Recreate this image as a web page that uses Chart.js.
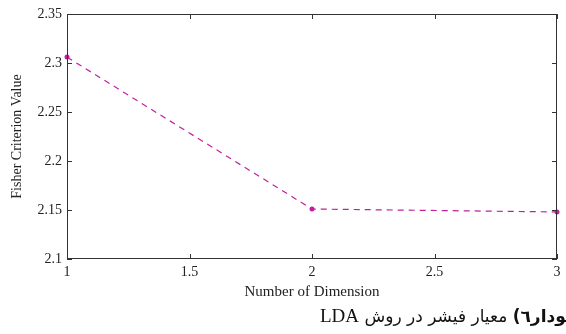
<!DOCTYPE html>
<html><head><meta charset="utf-8">
<script src="https://cdn.jsdelivr.net/npm/chart.js@4"></script>
<style>
html,body{margin:0;padding:0;background:#fff;width:566px;height:334px;overflow:hidden;position:relative;}
#wrap{position:absolute;left:0;top:0;width:566px;height:305px;}
#cap{position:absolute;top:303px;left:320px;font-family:"DejaVu Sans";font-size:17px;direction:rtl;white-space:nowrap;color:#111;line-height:26px;}
#cap b{font-weight:bold;}
#cap .lat{font-family:"Liberation Serif";font-size:19px;}
</style></head><body>
<div id="wrap"><canvas id="c" width="566" height="305"></canvas></div>
<div id="cap"><b>نمودار٦)</b> معیار فیشر در روش <span class="lat">LDA</span></div>
<script>
const dims = [1, 2, 3];
const fisherValues = [2.306, 2.151, 2.148];
const xTicks = [1, 1.5, 2, 2.5, 3];
const yTicks = [2.1, 2.15, 2.2, 2.25, 2.3, 2.35];
const lineColor = '#c0209e';
const axisColor = '#333';
const serif = 'Liberation Serif';

const frame = {
  id: 'frame',
  afterDatasetsDraw(chart) {
    const {ctx, chartArea: a, scales: {x, y}} = chart;
    ctx.save();
    ctx.strokeStyle = axisColor;
    ctx.lineWidth = 1;
    ctx.strokeRect(Math.round(a.left) + 0.5, Math.round(a.top) + 0.5, Math.round(a.right - a.left) - 1, Math.round(a.bottom - a.top) - 1);
    ctx.beginPath();
    const t = 5;
    xTicks.forEach(v => {
      const px = Math.round(x.getPixelForValue(v)) + 0.5;
      ctx.moveTo(px, a.bottom); ctx.lineTo(px, a.bottom - t);
      ctx.moveTo(px, a.top); ctx.lineTo(px, a.top + t);
    });
    yTicks.forEach(v => {
      const py = Math.round(y.getPixelForValue(v)) + 0.5;
      ctx.moveTo(a.left, py); ctx.lineTo(a.left + t, py);
      ctx.moveTo(a.right, py); ctx.lineTo(a.right - t, py);
    });
    ctx.stroke();
    ctx.restore();
  }
};

new Chart(document.getElementById('c'), {
  type: 'line',
  data: {
    datasets: [{
      data: dims.map((d, i) => ({x: d, y: fisherValues[i]})),
      borderColor: lineColor,
      backgroundColor: lineColor,
      borderWidth: 1.2,
      borderDash: [6, 5],
      pointRadius: 2.5,
      pointBorderWidth: 0,
      fill: false,
      tension: 0,
      clip: false
    }]
  },
  options: {
    responsive: false,
    animation: false,
    layout: {padding: {left: 0, top: 14, right: 9, bottom: 0}},
    plugins: {legend: {display: false}, tooltip: {enabled: false}},
    scales: {
      x: {
        type: 'linear', min: 1, max: 3,
        afterBuildTicks: s => { s.ticks = xTicks.map(v => ({value: v})); },
        afterFit: s => { s.height = 46; },
        grid: {display: false, drawTicks: false},
        border: {display: false},
        ticks: {padding: 5, color: '#222', font: {family: serif, size: 14}, maxRotation: 0, callback: v => String(v)},
        title: {display: true, text: 'Number of Dimension', color: '#222', font: {family: serif, size: 15}, padding: {top: 0, bottom: 4}}
      },
      y: {
        min: 2.1, max: 2.35,
        afterBuildTicks: s => { s.ticks = yTicks.map(v => ({value: v})); },
        afterFit: s => { s.width = 67; },
        grid: {display: false, drawTicks: false},
        border: {display: false},
        ticks: {padding: 5, color: '#222', font: {family: serif, size: 14}, callback: v => String(v)},
        title: {display: true, text: 'Fisher Criterion Value', color: '#222', font: {family: serif, size: 14}, padding: {top: 9, bottom: 0}}
      }
    }
  },
  plugins: [frame]
});
</script>
</body></html>
